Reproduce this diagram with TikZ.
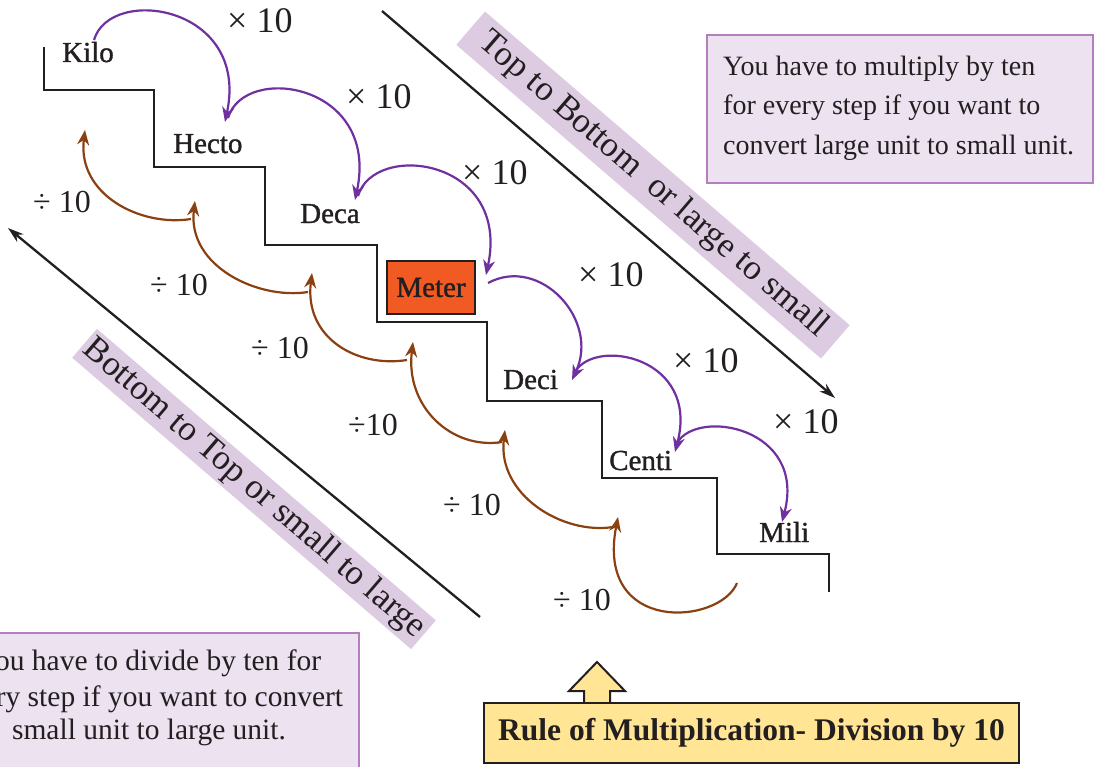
\documentclass[tikz,border=0pt]{standalone}
\usepackage{fontspec}
\setmainfont{Liberation Serif}
\newfontfamily\unitfont[FakeBold=1.2]{Liberation Serif}
\usetikzlibrary{arrows.meta}
\definecolor{ink}{RGB}{35,31,32}
\definecolor{arcpurple}{RGB}{112,48,160}
\definecolor{arcbrown}{RGB}{138,64,16}
\definecolor{bandcol}{RGB}{221,203,226}
\definecolor{boxfill}{RGB}{236,226,240}
\definecolor{boxline}{RGB}{181,126,190}
\definecolor{ruleyellow}{RGB}{255,229,148}
\definecolor{meterorange}{RGB}{241,90,34}
\begin{document}
\begin{tikzpicture}[x=1pt,y=-1pt,
  unitlbl/.style={font=\unitfont\fontsize{29}{34}\selectfont, text=ink, inner sep=0pt, anchor=base west},
  mullbl/.style={font=\fontsize{36}{40}\selectfont, text=ink, inner sep=0pt, anchor=base west},
  dvdlbl/.style={font=\fontsize{32}{36}\selectfont, text=ink, inner sep=0pt, anchor=base west},
  infotext/.style={font=\fontsize{28}{34}\selectfont, text=ink, inner sep=0pt},
  infotextb/.style={font=\fontsize{29.5}{34}\selectfont, text=ink, inner sep=0pt},
  mularc/.style={draw=arcpurple, line width=2.2pt, -{Stealth[length=15pt,width=12pt]}},
  divarc/.style={draw=arcbrown, line width=2.2pt, -{Stealth[length=15pt,width=12pt]}},
  diagline/.style={draw=ink, line width=2.3pt, -{Stealth[length=16pt,width=10pt]}},
  band/.style={fill=bandcol, inner sep=0pt, font=\fontsize{35}{40}\selectfont, text=ink, rotate=-40.7},
  infobox/.style={draw=boxline, fill=boxfill, line width=2.5pt},
  stair/.style={draw=ink, line width=2.5pt, line join=miter}
]
\useasboundingbox (0,0) rectangle (1094,767);
\clip (0,0) rectangle (1094,767);

% staircase
\draw[stair] (44,47) -- (44,90) -- (154,90) -- (154,167) -- (265,167) -- (265,245)
  -- (377,245) -- (377,322) -- (487,322) -- (487,401) -- (602,401) -- (602,478)
  -- (717,478) -- (717,554) -- (829,554) -- (829,592);

% unit labels
\node[unitlbl] (kilo) at (62,62) {Kilo};
\node[unitlbl] (hecto) at (173,153) {Hecto};
\node[unitlbl] (deca) at (300,223) {Deca};
\node[draw=ink, line width=2.5pt, fill=meterorange, minimum width=88pt, minimum height=53pt,
      inner sep=0pt, font=\unitfont\fontsize{29}{34}\selectfont, text=ink] (meter) at (431,287.5) {Meter};
\node[unitlbl] (deci) at (503,389) {Deci};
\node[unitlbl] (centi) at (609,470) {Centi};
\node[unitlbl] (mili) at (759,542) {Mili};

% multiplication labels
\node[mullbl] (m1) at (227,33) {× 10};
\node[mullbl] (m2) at (346,109) {× 10};
\node[mullbl] (m3) at (462,185) {× 10};
\node[mullbl] (m4) at (578,287) {× 10};
\node[mullbl] (m5) at (673,372) {× 10};
\node[mullbl] (m6) at (773,433) {× 10};

% division labels
\node[dvdlbl] (d1) at (33,213) {÷ 10};
\node[dvdlbl] (d2) at (150,295) {÷ 10};
\node[dvdlbl] (d3) at (251,358) {÷ 10};
\node[dvdlbl] (d4) at (348,435) {÷10};
\node[dvdlbl] (d5) at (443,515) {÷ 10};
\node[dvdlbl] (d6) at (553,610) {÷ 10};

% purple arc end points
\coordinate (pa0) at (94,40);
\coordinate (pa1) at (225,122);
\coordinate (pb0) at (228,118);
\coordinate (pb1) at (355,200);
\coordinate (pc0) at (358,196);
\coordinate (pc1) at (486,275);
\coordinate (pd0) at (488,283);
\coordinate (pd1) at (572,380);
\coordinate (pe0) at (575,372);
\coordinate (pe1) at (675,452);
\coordinate (pf0) at (677,443);
\coordinate (pf1) at (782,522);

\draw[mularc] (pa0) .. controls (110,-15) and (250,5) .. (pa1);
\draw[mularc] (pb0) .. controls (244,63) and (380,83) .. (pb1);
\draw[mularc] (pc0) .. controls (374,141) and (511,158) .. (pc1);
\draw[mularc] (pd0) .. controls (540,255) and (600,320) .. (pd1);
\draw[mularc] (pe0) .. controls (595,337) and (700,357) .. (pe1);
\draw[mularc] (pf0) .. controls (697,408) and (807,427) .. (pf1);

% brown arc end points
\coordinate (ba0) at (737,583);
\coordinate (ba1) at (618,517);
\coordinate (bb0) at (613,527);
\coordinate (bb1) at (505,430);
\coordinate (bc0) at (502,442);
\coordinate (bc1) at (413,342);
\coordinate (bd0) at (407,360);
\coordinate (bd1) at (312,273);
\coordinate (be0) at (308,292);
\coordinate (be1) at (195,201);
\coordinate (bf0) at (191,219);
\coordinate (bf1) at (85,130);

\draw[divarc] (ba0) .. controls (720,625) and (595,635) .. (ba1);
\draw[divarc] (bb0) .. controls (563,535) and (497,495) .. (bb1);
\draw[divarc] (bc0) .. controls (452,450) and (405,407) .. (bc1);
\draw[divarc] (bd0) .. controls (357,368) and (304,338) .. (bd1);
\draw[divarc] (be0) .. controls (258,300) and (187,266) .. (be1);
\draw[divarc] (bf0) .. controls (141,227) and (77,195) .. (bf1);

% diagonal direction arrows
\coordinate (tbstart) at (382,11);
\coordinate (tbend) at (835,398);
\draw[diagline] (tbstart) -- (tbend);
\coordinate (btstart) at (480,617);
\coordinate (btend) at (8,228);
\draw[diagline] (btstart) -- (btend);

% bands
\node[band, minimum width=481pt, minimum height=44pt] (topband) at (653,185) {Top to Bottom\ \ or large to small};
\node[band, minimum width=447pt, minimum height=38pt] (botband) at (254,489) {Bottom to Top or small to large};

% top-right info box
\draw[infobox] (707,35) rectangle (1093,183);
\node[infotext, anchor=base west] (tr1) at (723,76) {You have to multiply by ten};
\node[infotext, anchor=base west] (tr2) at (723,115) {for every step if you want to};
\node[infotext, anchor=base west] (tr3) at (723,155) {convert large unit to small unit.};

% bottom-left info box
\draw[infobox] (-60,633) rectangle (359,800);
\node[infotextb, anchor=base] (bl1) at (149,670) {You have to divide by ten for};
\node[infotextb, anchor=base] (bl2) at (149,706) {every step if you want to convert};
\node[infotextb, anchor=base] (bl3) at (149,739) {small unit to large unit.};

% rule box with up arrow
\draw[draw=ink, fill=ruleyellow, line width=2pt, line join=miter]
  (584,705) -- (584,691) -- (569,691) -- (597,662) -- (625,691) -- (610,691) -- (610,705);
\node[draw=ink, fill=ruleyellow, line width=2.5pt, minimum width=535pt, minimum height=60pt,
      inner sep=0pt, font=\fontsize{31.5}{36}\selectfont\bfseries, text=ink] (rule) at (751.5,733)
      {Rule of Multiplication- Division by 10};
\end{tikzpicture}
\end{document}
